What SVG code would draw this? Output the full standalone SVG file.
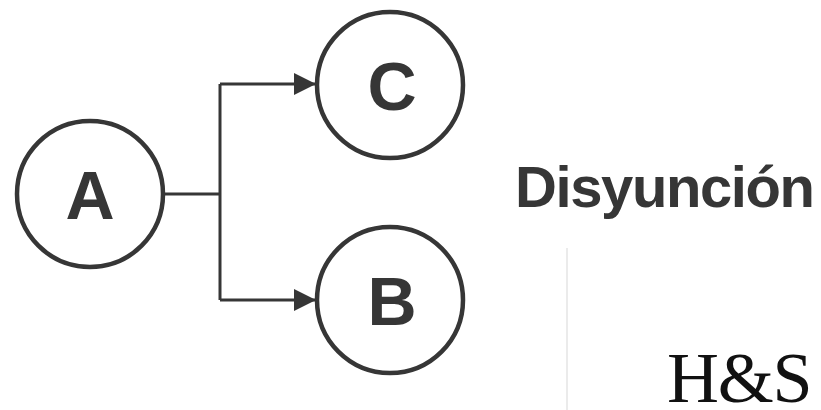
<svg xmlns="http://www.w3.org/2000/svg" width="821" height="410" viewBox="0 0 821 410">
  <style>
    .node circle { fill: #fff; stroke: #363636; stroke-width: 4.5; }
    .node text { font-family: "Liberation Sans", Arial, sans-serif; font-weight: bold; font-size: 68px; fill: #363636; text-anchor: middle; }
    .wire { fill: none; stroke: #363636; stroke-width: 3; }
  </style>
  <defs>
    <marker id="head" viewBox="0 0 22 22" refX="22" refY="11" markerWidth="22" markerHeight="22" markerUnits="userSpaceOnUse" orient="auto">
      <path d="M0,0 L22,11 L0,22 Z" fill="#363636"/>
    </marker>
  </defs>
  <rect width="821" height="410" fill="#fff"/>

  <g id="connectors">
    <path class="wire" d="M165,194 H220"/>
    <path class="wire" d="M220,84 V300"/>
    <path class="wire" d="M220,84 H316" marker-end="url(#head)"/>
    <path class="wire" d="M220,300 H316" marker-end="url(#head)"/>
  </g>

  <g id="node-a" class="node">
    <circle cx="90" cy="194" r="73"/>
    <text x="90" y="219">A</text>
  </g>
  <g id="node-c" class="node">
    <circle cx="390" cy="85" r="73"/>
    <text x="392" y="110">C</text>
  </g>
  <g id="node-b" class="node">
    <circle cx="390" cy="300" r="73"/>
    <text x="392" y="325">B</text>
  </g>

  <g id="title">
    <text x="515" y="207" letter-spacing="-1.4" font-family="Liberation Sans, Arial, sans-serif" font-weight="bold" font-size="58" fill="#363636">Disyunción</text>
  </g>

  <line x1="567" y1="248" x2="567" y2="410" stroke="#e4e4e4" stroke-width="1.5"/>

  <g id="logo">
    <text x="667" y="402" letter-spacing="-1.2" font-family="Liberation Serif, Times New Roman, serif" font-size="72" fill="#111">H&amp;S</text>
  </g>
</svg>
